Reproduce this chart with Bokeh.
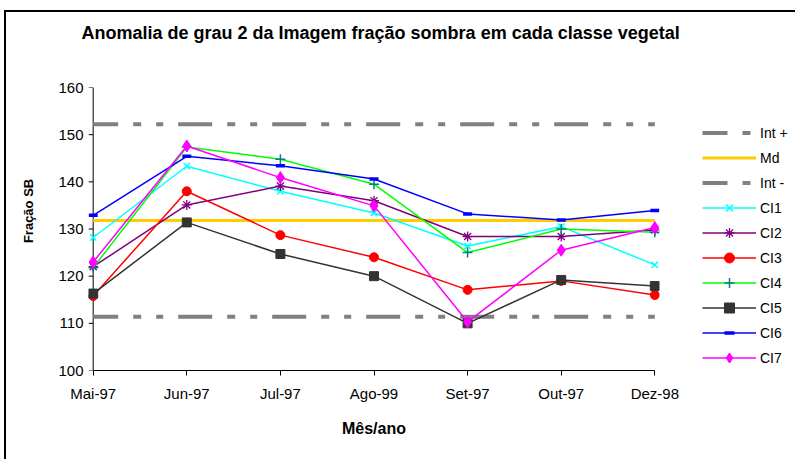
from bokeh.plotting import figure
from bokeh.models import Range1d, FixedTicker, Legend, LegendItem
from bokeh.embed import file_html
from bokeh.resources import INLINE

months = ["Mai-97", "Jun-97", "Jul-97", "Ago-99", "Set-97", "Out-97", "Dez-98"]
xs = list(range(len(months)))

int_plus = [152.2, 152.2, 152.2, 152.2, 152.2, 152.2, 152.2]
md = [131.8, 131.8, 131.8, 131.8, 131.8, 131.8, 131.8]
int_minus = [111.4, 111.4, 111.4, 111.4, 111.4, 111.4, 111.4]

cl1 = [128.2, 143.3, 138.0, 133.4, 126.4, 130.5, 122.4]
cl2 = [122.0, 135.1, 139.1, 136.0, 128.4, 128.4, 129.8]
cl3 = [115.8, 138.0, 128.7, 124.0, 117.1, 119.0, 116.0]
cl4 = [121.8, 147.4, 144.8, 139.5, 125.0, 130.0, 129.3]
cl5 = [116.3, 131.4, 124.7, 120.0, 110.0, 119.2, 117.9]
cl6 = [132.9, 145.4, 143.4, 140.6, 133.2, 131.9, 133.9]
cl7 = [123.0, 147.6, 140.9, 134.9, 110.3, 125.5, 130.3]

y_ticks = [100, 110, 120, 130, 140, 150, 160]

FONT = "Liberation Sans"
PAD = 0.05

p = figure(width=787, height=447, frame_width=571, frame_height=283,
           min_border_left=82, min_border_right=134, min_border_top=75, min_border_bottom=89,
           x_range=Range1d(-PAD, 6 + PAD), y_range=Range1d(100, 160),
           output_backend="svg", toolbar_location=None)
p.styles = {"margin-left": "4px", "margin-top": "10px",
            "border-left": "2px solid #000000", "border-top": "2px solid #000000"}
p.outline_line_color = None
p.xgrid.visible = False
p.ygrid.visible = False
p.background_fill_color = "white"
p.border_fill_color = "white"

p.title.text = "Anomalia de grau 2 da Imagem fração sombra em cada classe vegetal\n\n"
p.title.align = "left"
p.title.offset = -7
p.title.text_font = FONT
p.title.text_font_size = "18px"
p.title.text_font_style = "bold"
p.title.text_color = "black"
p.title.standoff = 10

# axes
p.xaxis.ticker = FixedTicker(ticks=xs)
p.xaxis.major_label_overrides = {i: m for i, m in enumerate(months)}
p.xaxis.bounds = (0, 6)
p.yaxis.ticker = FixedTicker(ticks=y_ticks)
for ax in (p.xaxis[0], p.yaxis[0]):
    ax.axis_line_color = "black"
    ax.axis_line_width = 1
    ax.major_tick_line_color = "black"
    ax.major_tick_out = 5
    ax.major_tick_in = 0
    ax.minor_tick_line_color = None
    ax.major_label_text_font = FONT
    ax.major_label_text_font_size = "15px"
    ax.major_label_text_color = "black"
    ax.axis_label_text_font = FONT
    ax.axis_label_text_font_style = "bold"
    ax.axis_label_text_color = "black"
p.yaxis.axis_line_color = None
p.yaxis.major_tick_out = 0
p.xaxis.major_label_standoff = 9
p.yaxis.major_label_standoff = 5
p.xaxis.axis_label = "Mês/ano"
p.xaxis.axis_label_text_font_size = "16px"
p.xaxis.axis_label_standoff = 15
p.yaxis.axis_label = "\u00a0" * 10 + "Fração SB"
p.yaxis.axis_label_text_font_size = "13px"
p.yaxis.axis_label_standoff = 19

# y axis line and ticks drawn at the first category (x = 0)
p.line([0, 0], [y_ticks[0], y_ticks[-1]], line_color="black", line_width=1)
p.segment(x0=[-PAD] * len(y_ticks), y0=y_ticks, x1=[0] * len(y_ticks), y1=y_ticks,
          line_color="black", line_width=1)

# reference lines
r_ip = p.line(xs, int_plus, line_color="#808080", line_width=4,
              line_dash="34 15 8 15 7 15", line_dash_offset=9)
r_md = p.line(xs, md, line_color="#FFCC00", line_width=3)
r_im = p.line(xs, int_minus, line_color="#808080", line_width=4,
              line_dash="34 15 8 15 7 15", line_dash_offset=9)

items = [LegendItem(label="Int +", renderers=[r_ip]),
         LegendItem(label="Md", renderers=[r_md]),
         LegendItem(label="Int -", renderers=[r_im])]

series = [
    ("CI1", cl1, "#00FFFF", dict(marker="x", size=9, line_color="#00FFFF", line_width=1.5)),
    ("CI2", cl2, "#800080", dict(marker="asterisk", size=10, line_color="#800080", line_width=1.3)),
    ("CI3", cl3, "#FF0000", dict(marker="circle", size=9, fill_color="#FF0000", line_color="#FF0000")),
    ("CI4", cl4, "#00FF00", dict(marker="cross", size=10, line_color="#008080", line_width=1.5)),
    ("CI5", cl5, "#333333", dict(marker="square", size=9, fill_color="#333333", line_color="#333333")),
    ("CI6", cl6, "#0000FF", dict(marker="dash", size=9, line_color="#0000FF", line_width=3.5)),
    ("CI7", cl7, "#FF00FF", dict(marker="diamond", size=12, fill_color="#FF00FF", line_color="#FF00FF")),
]
for name, ys, col, mk in series:
    rl = p.line(xs, ys, line_color=col, line_width=1.5)
    rs = p.scatter(xs, ys, **mk)
    items.append(LegendItem(label=name, renderers=[rl, rs]))

legend = Legend(items=items, location=(43, 0))
legend.padding = 0
legend.margin = 0
legend.spacing = 0
legend.glyph_height = 25
legend.label_height = 25
legend.glyph_width = 54
legend.label_standoff = 4
legend.border_line_color = None
legend.background_fill_alpha = 0
legend.label_text_font = FONT
legend.label_text_font_size = "14px"
legend.label_text_color = "black"
p.add_layout(legend, "right")

open("out.html", "w").write(file_html(p, INLINE))
